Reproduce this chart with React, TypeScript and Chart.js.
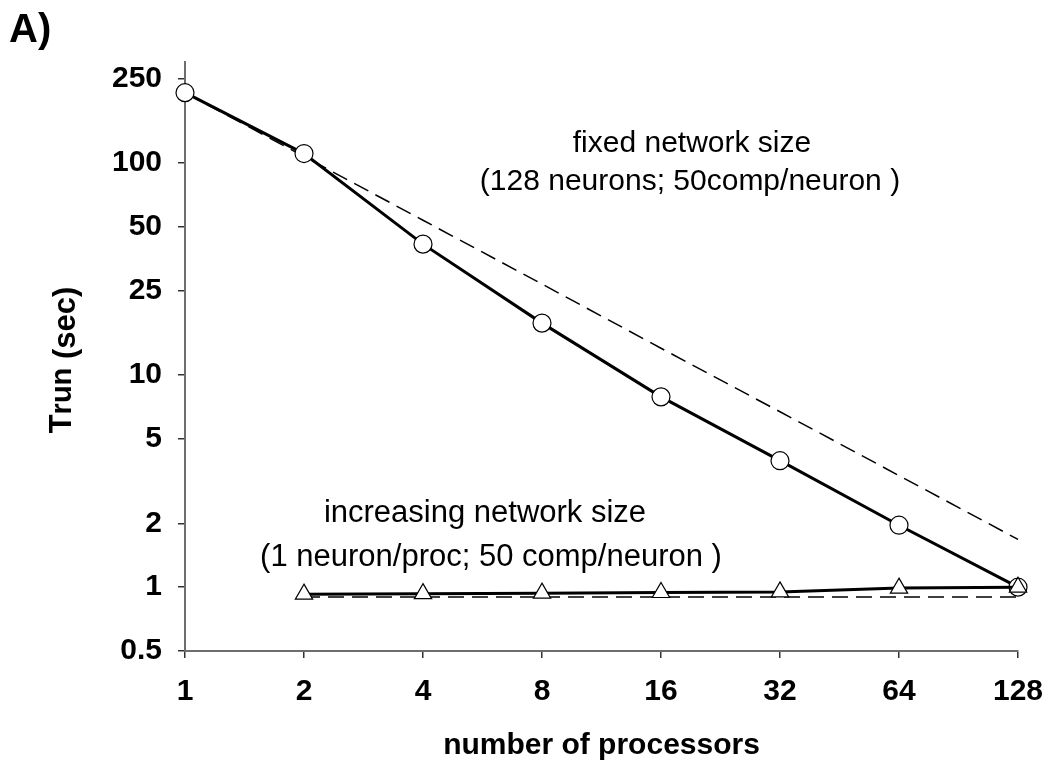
import React, { useEffect, useRef } from "react";
import { Chart, registerables } from "chart.js";

Chart.register(...registerables);

// ---- data ----
const processors = [1, 2, 4, 8, 16, 32, 64, 128];
const fixedSizeTime = [215, 111, 41.5, 17.6, 7.9, 3.95, 1.96, 1.0];
const fixedSizeIdeal = [215, 107.5, 53.8, 26.9, 13.4, 6.72, 3.36, 1.68];
const increasingProcessors = [2, 4, 8, 16, 32, 64, 128];
const increasingSizeTime = [0.927, 0.932, 0.937, 0.944, 0.95, 0.99, 1.0];
const increasingSizeIdeal = [0.9, 0.9, 0.9, 0.9, 0.9, 0.9, 0.9];
const yTickValues = [0.5, 1, 2, 5, 10, 25, 50, 100, 250];
const xTickValues = [1, 2, 4, 8, 16, 32, 64, 128];
const fixedLabel = ["fixed network size", "(128 neurons; 50comp/neuron )"];
const increasingLabel = ["increasing network size", "(1 neuron/proc; 50 comp/neuron )"];
const panelLabel = "A)";
const xTitle = "number of processors";
const yTitleMain = "T";
const yTitleSub = "run";
const yTitleUnit = " (sec)";

const FONT = "'Liberation Sans', Arial, Helvetica, sans-serif";

const textPlugin = {
  id: "textPlugin",
  afterDraw(chart: any) {
    const ctx = chart.ctx as CanvasRenderingContext2D;
    ctx.save();
    ctx.fillStyle = "#000";
    // panel label
    ctx.font = `bold 40px ${FONT}`;
    ctx.textAlign = "left";
    ctx.textBaseline = "alphabetic";
    ctx.fillText(panelLabel, 9, 42);

    // annotations
    ctx.font = `30px ${FONT}`;
    ctx.textAlign = "center";
    ctx.fillText(fixedLabel[0], 692, 152);
    ctx.fillText(fixedLabel[1], 690, 190);
    ctx.font = `31px ${FONT}`;
    ctx.fillText(increasingLabel[0], 485, 522);
    ctx.fillText(increasingLabel[1], 491, 566);

    // y title (rotated)
    ctx.translate(71, 360);
    ctx.rotate(-Math.PI / 2);
    ctx.textAlign = "left";
    const fMain = `bold 31px ${FONT}`;
    const fSub = `bold 29px ${FONT}`;
    ctx.font = fMain;
    const wT = ctx.measureText(yTitleMain).width;
    const wU = ctx.measureText(yTitleUnit).width;
    ctx.font = fSub;
    const wS = ctx.measureText(yTitleSub).width;
    const total = wT + wS + wU;
    let a = -total / 2;
    ctx.font = fMain;
    ctx.fillText(yTitleMain, a, 0);
    a += wT;
    ctx.font = fSub;
    ctx.fillText(yTitleSub, a, 0);
    a += wS;
    ctx.font = fMain;
    ctx.fillText(yTitleUnit, a, 4);
    ctx.restore();
  },
};

export default function App() {
  const ref = useRef<HTMLCanvasElement | null>(null);
  useEffect(() => {
    if (!ref.current) return;
    const chart = new Chart(ref.current, {
      type: "line",
      data: {
        datasets: [
          {
            label: "increasing network size",
            data: increasingProcessors.map((x, i) => ({ x, y: increasingSizeTime[i] })),
            borderColor: "#000",
            borderWidth: 3,
            pointStyle: "triangle",
            pointRadius: 10,
            pointBackgroundColor: "#fff",
            pointBorderColor: "#000",
            pointBorderWidth: 1.2,
            clip: false,
          },
          {
            label: "fixed network size",
            data: processors.map((x, i) => ({ x, y: fixedSizeTime[i] })),
            borderColor: "#000",
            borderWidth: 3,
            pointStyle: "circle",
            pointRadius: 9,
            pointBackgroundColor: "#fff",
            pointBorderColor: "#000",
            pointBorderWidth: 1.2,
            clip: false,
          },
          {
            label: "ideal fixed",
            data: processors.map((x, i) => ({ x, y: fixedSizeIdeal[i] })),
            borderColor: "#000",
            borderWidth: 1.5,
            borderDash: [16, 8],
            pointRadius: 0,
            clip: false,
          },
          {
            label: "ideal increasing",
            data: increasingProcessors.map((x, i) => ({ x, y: increasingSizeIdeal[i] })),
            borderColor: "#000",
            borderWidth: 1.5,
            borderDash: [16, 8],
            pointRadius: 0,
            clip: false,
          },
        ],
      },
      options: {
        animation: false,
        responsive: false,
        maintainAspectRatio: false,
        layout: { padding: { top: 62, right: 33, left: 0, bottom: 0 } },
        plugins: { legend: { display: false }, tooltip: { enabled: false } },
        scales: {
          x: {
            type: "logarithmic",
            min: 1,
            max: 128,
            afterBuildTicks: (axis: any) => {
              axis.ticks = xTickValues.map((v) => ({ value: v }));
            },
            afterFit: (s: any) => {
              s.height = 118;
              s.paddingLeft = 0;
              s.paddingRight = 0;
            },
            border: { color: "#6e6e6e", width: 2 },
            grid: { drawOnChartArea: false, color: "#333", tickLength: 7, lineWidth: 1.5 },
            ticks: {
              color: "#000",
              font: { family: FONT, size: 30, weight: "bold" },
              padding: 16,
              maxRotation: 0,
              autoSkip: false,
              callback: (v: any) => String(v),
            },
            title: {
              display: true,
              text: xTitle,
              color: "#000",
              font: { family: FONT, size: 30, weight: "bold" },
              padding: { top: 0, bottom: 5 },
            },
          },
          y: {
            type: "logarithmic",
            min: 0.5,
            max: 300,
            afterBuildTicks: (axis: any) => {
              axis.ticks = yTickValues.map((v) => ({ value: v }));
            },
            afterFit: (s: any) => {
              s.width = 185;
              s.paddingTop = 0;
              s.paddingBottom = 0;
            },
            border: { color: "#6e6e6e", width: 2 },
            grid: { drawOnChartArea: false, color: "#333", tickLength: 7, lineWidth: 1.5 },
            ticks: {
              color: "#000",
              font: { family: FONT, size: 30, weight: "bold" },
              padding: 16,
              autoSkip: false,
              callback: (v: any) => String(v),
            },
          },
        },
      },
      plugins: [textPlugin],
    } as any);
    return () => chart.destroy();
  }, []);
  return (
    <div style={{ position: "absolute", left: 0, top: 0, width: 1051, height: 769, background: "#fff" }}>
      <canvas ref={ref} width={1051} height={769} style={{ width: 1051, height: 769, display: "block" }} />
    </div>
  );
}
